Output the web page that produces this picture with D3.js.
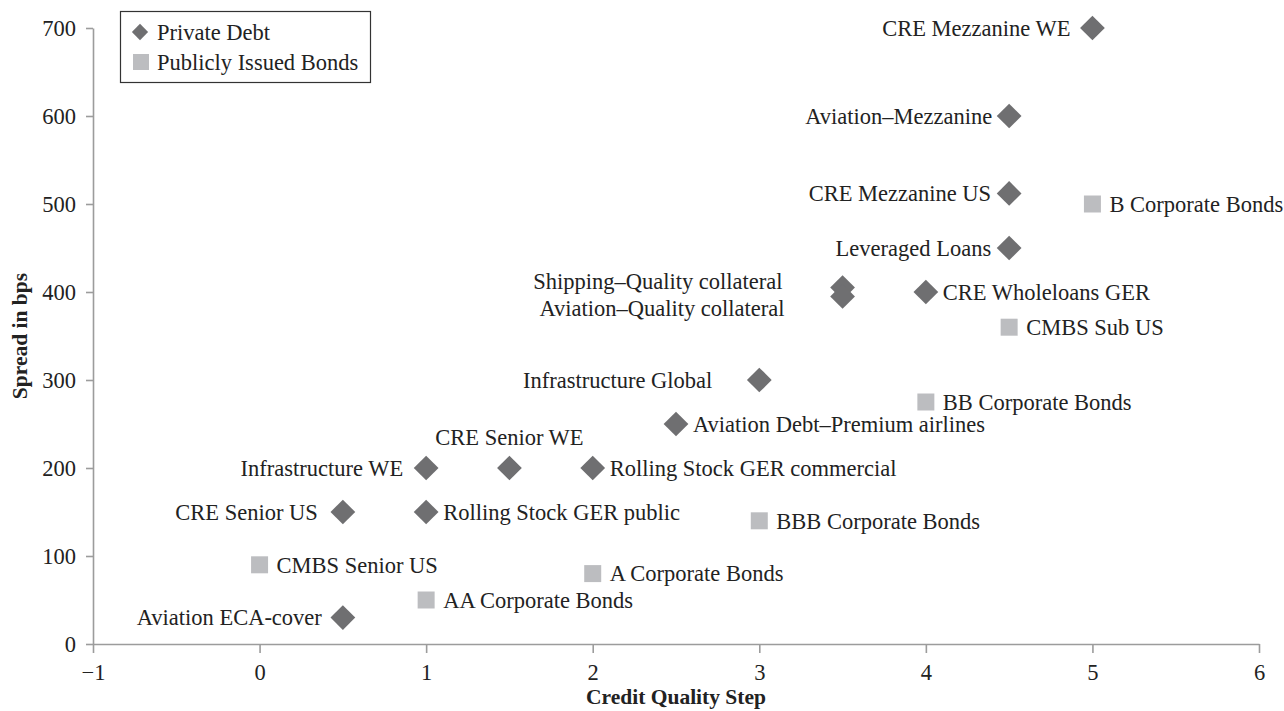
<!DOCTYPE html>
<html>
<head>
<meta charset="utf-8">
<title>Spread vs Credit Quality Step</title>
<script src="https://cdn.jsdelivr.net/npm/d3@7"></script>
<style>
  body { margin: 0; background: #fff; }
</style>
</head>
<body>
<svg width="1284" height="711" id="mainsvg" font-family="'Liberation Serif', 'Times New Roman', serif"></svg>
<script>
// Private debt (diamonds)
const debtNames = ['CRE Mezzanine WE','Aviation\u2013Mezzanine','CRE Mezzanine US','Leveraged Loans',
  'Shipping\u2013Quality collateral','Aviation\u2013Quality collateral','CRE Wholeloans GER','Infrastructure Global',
  'Aviation Debt\u2013Premium airlines','Infrastructure WE','CRE Senior WE','Rolling Stock GER commercial',
  'CRE Senior US','Rolling Stock GER public','Aviation ECA-cover'];
const debtCqs    = [5, 4.5, 4.5, 4.5, 3.5, 3.5, 4, 3, 2.5, 1, 1.5, 2, 0.5, 1, 0.5];
const debtSpread = [700, 600, 512, 450, 405, 395, 400, 300, 250, 200, 200, 200, 150, 150, 30];

// Publicly issued bonds (squares)
const bondNames  = ['B Corporate Bonds','CMBS Sub US','BB Corporate Bonds','BBB Corporate Bonds',
  'A Corporate Bonds','AA Corporate Bonds','CMBS Senior US'];
const bondCqs    = [5, 4.5, 4, 3, 2, 1, 0];
const bondSpread = [500, 360, 275, 140, 80, 50, 90];

const xTicks = [-1, 0, 1, 2, 3, 4, 5, 6];
const yTicks = [0, 100, 200, 300, 400, 500, 600, 700];

// label placement (anchor, dx, dy) in px; default is to the right
const labelPos = {
  'CRE Mezzanine WE': ['end', -22, 0],
  'Aviation\u2013Mezzanine': ['end', -17, 0],
  'CRE Mezzanine US': ['end', -18, 0],
  'Leveraged Loans': ['end', -18, 0],
  'Shipping\u2013Quality collateral': ['end', -60, -6],
  'Aviation\u2013Quality collateral': ['end', -58, 12],
  'Infrastructure Global': ['end', -47, 0],
  'Infrastructure WE': ['end', -23, 0],
  'CRE Senior WE': ['middle', 0, -31],
  'CRE Senior US': ['end', -25, 0],
  'Aviation ECA-cover': ['end', -21, 0]
};

const svg = d3.select('#mainsvg');
const x = d3.scaleLinear().domain([-1, 6]).range([93, 1259]);
const y = d3.scaleLinear().domain([0, 700]).range([644, 28]);
const axisColor = '#9c9c9c';
const font = "'Liberation Serif', 'Times New Roman', serif";
const fs = '22.5px';

const xAxis = svg.append('g').attr('transform', 'translate(0,644)')
  .call(d3.axisBottom(x).tickValues(xTicks).tickFormat(d3.format('d'))
    .tickSize(9).tickSizeOuter(0).tickPadding(11));
const yAxis = svg.append('g').attr('transform', 'translate(93,0)')
  .call(d3.axisLeft(y).tickValues(yTicks).tickFormat(d3.format('d'))
    .tickSize(7).tickSizeOuter(0).tickPadding(10));
[xAxis, yAxis].forEach(a => {
  a.attr('font-family', font).attr('font-size', fs);
  a.select('.domain').attr('stroke', axisColor).attr('stroke-width', 1.6);
  a.selectAll('.tick line').attr('stroke', axisColor).attr('stroke-width', 1.6);
  a.selectAll('.tick text').attr('fill', '#222');
});

svg.append('text').text('Credit Quality Step')
  .attr('x', 676).attr('y', 704).attr('text-anchor', 'middle')
  .attr('font-size', '21.5px').attr('font-weight', 'bold').attr('fill', '#222');
svg.append('text').text('Spread in bps')
  .attr('transform', 'translate(27,336) rotate(-90)').attr('text-anchor', 'middle')
  .attr('font-size', '21.5px').attr('font-weight', 'bold').attr('fill', '#222');

const diamondColor = '#6f6f71';
const squareColor = '#bcbdc0';
const diamond = d3.symbol().type(d3.symbolSquare).size(17.5 * 17.5);
const square = d3.symbol().type(d3.symbolSquare).size(17 * 17);

const debt = debtNames.map((n, i) => ({name: n, cqs: debtCqs[i], spread: debtSpread[i]}));
const bonds = bondNames.map((n, i) => ({name: n, cqs: bondCqs[i], spread: bondSpread[i]}));

svg.append('g').selectAll('path').data(bonds).join('path')
  .attr('d', square)
  .attr('transform', d => `translate(${x(d.cqs)},${y(d.spread)})`)
  .attr('fill', squareColor);

svg.append('g').selectAll('path').data(debt).join('path')
  .attr('d', diamond)
  .attr('transform', d => `translate(${x(d.cqs)},${y(d.spread)}) rotate(45)`)
  .attr('fill', diamondColor);

const labels = svg.append('g').attr('font-size', fs).attr('fill', '#222');
debt.concat(bonds).forEach(d => {
  const p = labelPos[d.name] || ['start', 17, 0];
  labels.append('text').text(d.name)
    .attr('x', x(d.cqs) + p[1]).attr('y', y(d.spread) + p[2])
    .attr('dy', '0.35em').attr('text-anchor', p[0]);
});

// legend
const lg = svg.append('g');
lg.append('rect').attr('x', 120.5).attr('y', 11.5).attr('width', 250).attr('height', 71)
  .attr('fill', '#fff').attr('stroke', '#333').attr('stroke-width', 1.2);
lg.append('path').attr('d', d3.symbol().type(d3.symbolSquare).size(11.5 * 11.5))
  .attr('transform', 'translate(140,32) rotate(45)').attr('fill', diamondColor);
lg.append('path').attr('d', d3.symbol().type(d3.symbolSquare).size(16 * 16))
  .attr('transform', 'translate(141,62)').attr('fill', squareColor);
lg.append('text').text('Private Debt').attr('x', 157).attr('y', 32).attr('dy', '0.35em')
  .attr('font-size', fs).attr('fill', '#222');
lg.append('text').text('Publicly Issued Bonds').attr('x', 157).attr('y', 62).attr('dy', '0.35em')
  .attr('font-size', fs).attr('fill', '#222');
</script>
</body>
</html>
